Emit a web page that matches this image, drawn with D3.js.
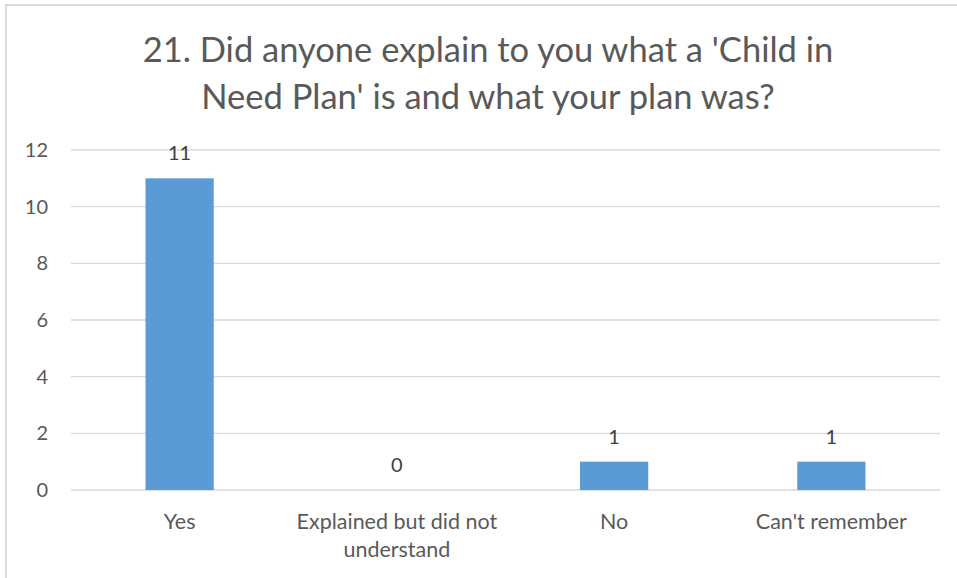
<!DOCTYPE html>
<html>
<head>
<meta charset="utf-8">
<script src="https://cdn.jsdelivr.net/npm/d3@7"></script>
<style>
  html, body { margin: 0; padding: 0; background: #fff; }
  svg { display: block; font-family: Lato, "Open Sans", sans-serif; }
</style>
</head>
<body>
<svg id="chart" width="957" height="578"></svg>
<script>
// Survey question 21 responses
const categories = ["Yes", "Explained but did not understand", "No", "Can't remember"];
const categoryLines = [["Yes"], ["Explained but did not", "understand"], ["No"], ["Can't remember"]];
const counts = [11, 0, 1, 1];
const yTicks = [0, 2, 4, 6, 8, 10, 12];
const titleLines = ["21. Did anyone explain to you what a 'Child in", "Need Plan' is and what your plan was?"];

const W = 957, H = 578;
const margin = { left: 71, right: 17, top: 150, bottom: 88 };
const textColor = "#595959";

const svg = d3.select("#chart");

// outer chart frame
svg.append("rect")
  .attr("x", 6).attr("y", 5)
  .attr("width", W + 10).attr("height", H + 10)
  .attr("fill", "none").attr("stroke", "#d9d9d9").attr("stroke-width", 2);

const x = d3.scaleBand()
  .domain(categories)
  .range([margin.left, W - margin.right])
  .paddingInner(0.686).paddingOuter(0.343);

const y = d3.scaleLinear().domain([0, 12]).range([H - margin.bottom, margin.top]);

// gridlines
svg.append("g")
  .selectAll("line").data(yTicks).join("line")
  .attr("x1", margin.left).attr("x2", W - margin.right)
  .attr("y1", d => y(d)).attr("y2", d => y(d))
  .attr("stroke", "#d9d9d9").attr("stroke-width", 1.3);

// y axis labels
const yAxis = d3.axisLeft(y).tickValues(yTicks).tickSize(0).tickPadding(23);
const yg = svg.append("g").attr("transform", `translate(${margin.left},0)`).call(yAxis);
yg.select(".domain").remove();
yg.selectAll("text").attr("fill", textColor).style("font-size", "20px").style("font-family", "Lato, sans-serif");

// bars
svg.append("g").selectAll("rect").data(categories).join("rect")
  .attr("x", d => x(d))
  .attr("width", x.bandwidth())
  .attr("y", (d, i) => y(counts[i]))
  .attr("height", (d, i) => y(0) - y(counts[i]))
  .attr("fill", "#5b9bd5");

// value labels
svg.append("g").selectAll("text").data(categories).join("text")
  .attr("x", d => x(d) + x.bandwidth() / 2)
  .attr("y", (d, i) => y(counts[i]) - 18)
  .attr("text-anchor", "middle")
  .attr("fill", "#404040")
  .style("font-size", "20px")
  .text((d, i) => counts[i]);

// category labels
const cat = svg.append("g").selectAll("text").data(categories).join("text")
  .attr("x", d => x(d) + x.bandwidth() / 2)
  .attr("y", 529)
  .attr("text-anchor", "middle")
  .attr("fill", textColor)
  .style("font-size", "21.5px");
cat.selectAll("tspan").data((d, i) => categoryLines[i]).join("tspan")
  .attr("x", function () { return d3.select(this.parentNode).attr("x"); })
  .attr("dy", (d, i) => i === 0 ? 0 : 28)
  .text(d => d);

// title
svg.append("g").selectAll("text").data(titleLines).join("text")
  .attr("x", 488)
  .attr("y", (d, i) => 62 + i * 47)
  .attr("text-anchor", "middle")
  .attr("fill", textColor)
  .style("font-size", "34.5px")
  .text(d => d);
</script>
</body>
</html>
